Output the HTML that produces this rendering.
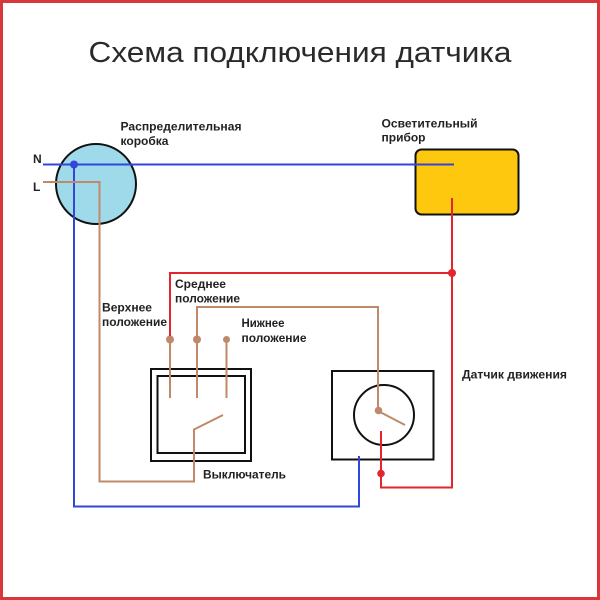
<!DOCTYPE html>
<html>
<head>
<meta charset="utf-8">
<style>
html,body{margin:0;padding:0;background:#fff;}
svg{display:block;}
text{font-family:"Liberation Sans","DejaVu Sans",sans-serif;}
.lb{font-size:12px;font-weight:bold;fill:#222;}
</style>
</head>
<body>
<svg width="600" height="600" viewBox="0 0 600 600" xmlns="http://www.w3.org/2000/svg">
  <rect x="0" y="0" width="600" height="600" fill="#fff"/>
  <rect x="1.5" y="1.5" width="597" height="597" fill="none" stroke="#d8383b" stroke-width="3"/>

  <text x="300" y="62" text-anchor="middle" font-size="29" fill="#2a2a2a" textLength="423" lengthAdjust="spacingAndGlyphs">Схема подключения датчика</text>

  <!-- distribution box -->
  <circle cx="96" cy="184" r="40" fill="#9fdaea" stroke="#111" stroke-width="2"/>

  <!-- lamp -->
  <rect x="415.5" y="149.5" width="103" height="65" rx="6" fill="#fec80f" stroke="#111" stroke-width="2"/>

  <!-- switch -->
  <rect x="151" y="369" width="100" height="92" fill="none" stroke="#111" stroke-width="2"/>
  <rect x="157.5" y="376" width="87.5" height="77" fill="none" stroke="#111" stroke-width="2"/>

  <!-- sensor -->
  <rect x="332" y="371" width="101.5" height="88.5" fill="#fff" stroke="#111" stroke-width="2"/>
  <circle cx="384" cy="415" r="30" fill="none" stroke="#111" stroke-width="2"/>

  <!-- blue N wire -->
  <g fill="none" stroke="#3346dc" stroke-width="2">
    <line x1="43" y1="164.5" x2="454" y2="164.5"/>
    <polyline points="74,164.5 74,506.5 359,506.5 359,456"/>
  </g>
  <circle cx="74" cy="164.5" r="4" fill="#3346dc"/>

  <!-- brown L wires -->
  <g fill="none" stroke="#c0896a" stroke-width="2">
    <polyline points="43,182 99.5,182 99.5,481.5 194,481.5 194,429.5 223,415"/>
    <line x1="170" y1="340" x2="170" y2="398"/>
    <line x1="197" y1="340" x2="197" y2="398"/>
    <line x1="226.5" y1="340" x2="226.5" y2="398"/>
    <polyline points="197,340 197,307 378,307 378,411 405,425"/>
  </g>
  <circle cx="170" cy="339.5" r="4" fill="#c0896a"/>
  <circle cx="197" cy="339.5" r="4" fill="#c0896a"/>
  <circle cx="226.5" cy="339.5" r="3.5" fill="#c0896a"/>
  <circle cx="378.5" cy="410.5" r="3.8" fill="#c0896a"/>

  <!-- red wires -->
  <g fill="none" stroke="#e3262d" stroke-width="2">
    <polyline points="170,336 170,273 452,273"/>
    <polyline points="452,198 452,487.5 381,487.5 381,431"/>
  </g>
  <circle cx="452" cy="273" r="4" fill="#e3262d"/>
  <circle cx="381" cy="473.5" r="3.8" fill="#e3262d"/>

  <!-- labels -->
  <text class="lb" x="33" y="163">N</text>
  <text class="lb" x="33" y="191">L</text>
  <text class="lb" x="120.5" y="130.5" textLength="121" lengthAdjust="spacingAndGlyphs">Распределительная</text>
  <text class="lb" x="120.5" y="145" textLength="48" lengthAdjust="spacingAndGlyphs">коробка</text>
  <text class="lb" x="381.5" y="127.5" textLength="96" lengthAdjust="spacingAndGlyphs">Осветительный</text>
  <text class="lb" x="381.5" y="141.5" textLength="44" lengthAdjust="spacingAndGlyphs">прибор</text>
  <text class="lb" x="175" y="288" textLength="51" lengthAdjust="spacingAndGlyphs">Среднее</text>
  <text class="lb" x="175" y="302.5" textLength="65" lengthAdjust="spacingAndGlyphs">положение</text>
  <text class="lb" x="102" y="311.5" textLength="50" lengthAdjust="spacingAndGlyphs">Верхнее</text>
  <text class="lb" x="102" y="326" textLength="65" lengthAdjust="spacingAndGlyphs">положение</text>
  <text class="lb" x="241.5" y="327" textLength="43" lengthAdjust="spacingAndGlyphs">Нижнее</text>
  <text class="lb" x="241.5" y="342" textLength="65" lengthAdjust="spacingAndGlyphs">положение</text>
  <text class="lb" x="462" y="378.5" textLength="105" lengthAdjust="spacingAndGlyphs">Датчик движения</text>
  <text class="lb" x="203" y="478.5" textLength="83" lengthAdjust="spacingAndGlyphs">Выключатель</text>
</svg>
</body>
</html>
